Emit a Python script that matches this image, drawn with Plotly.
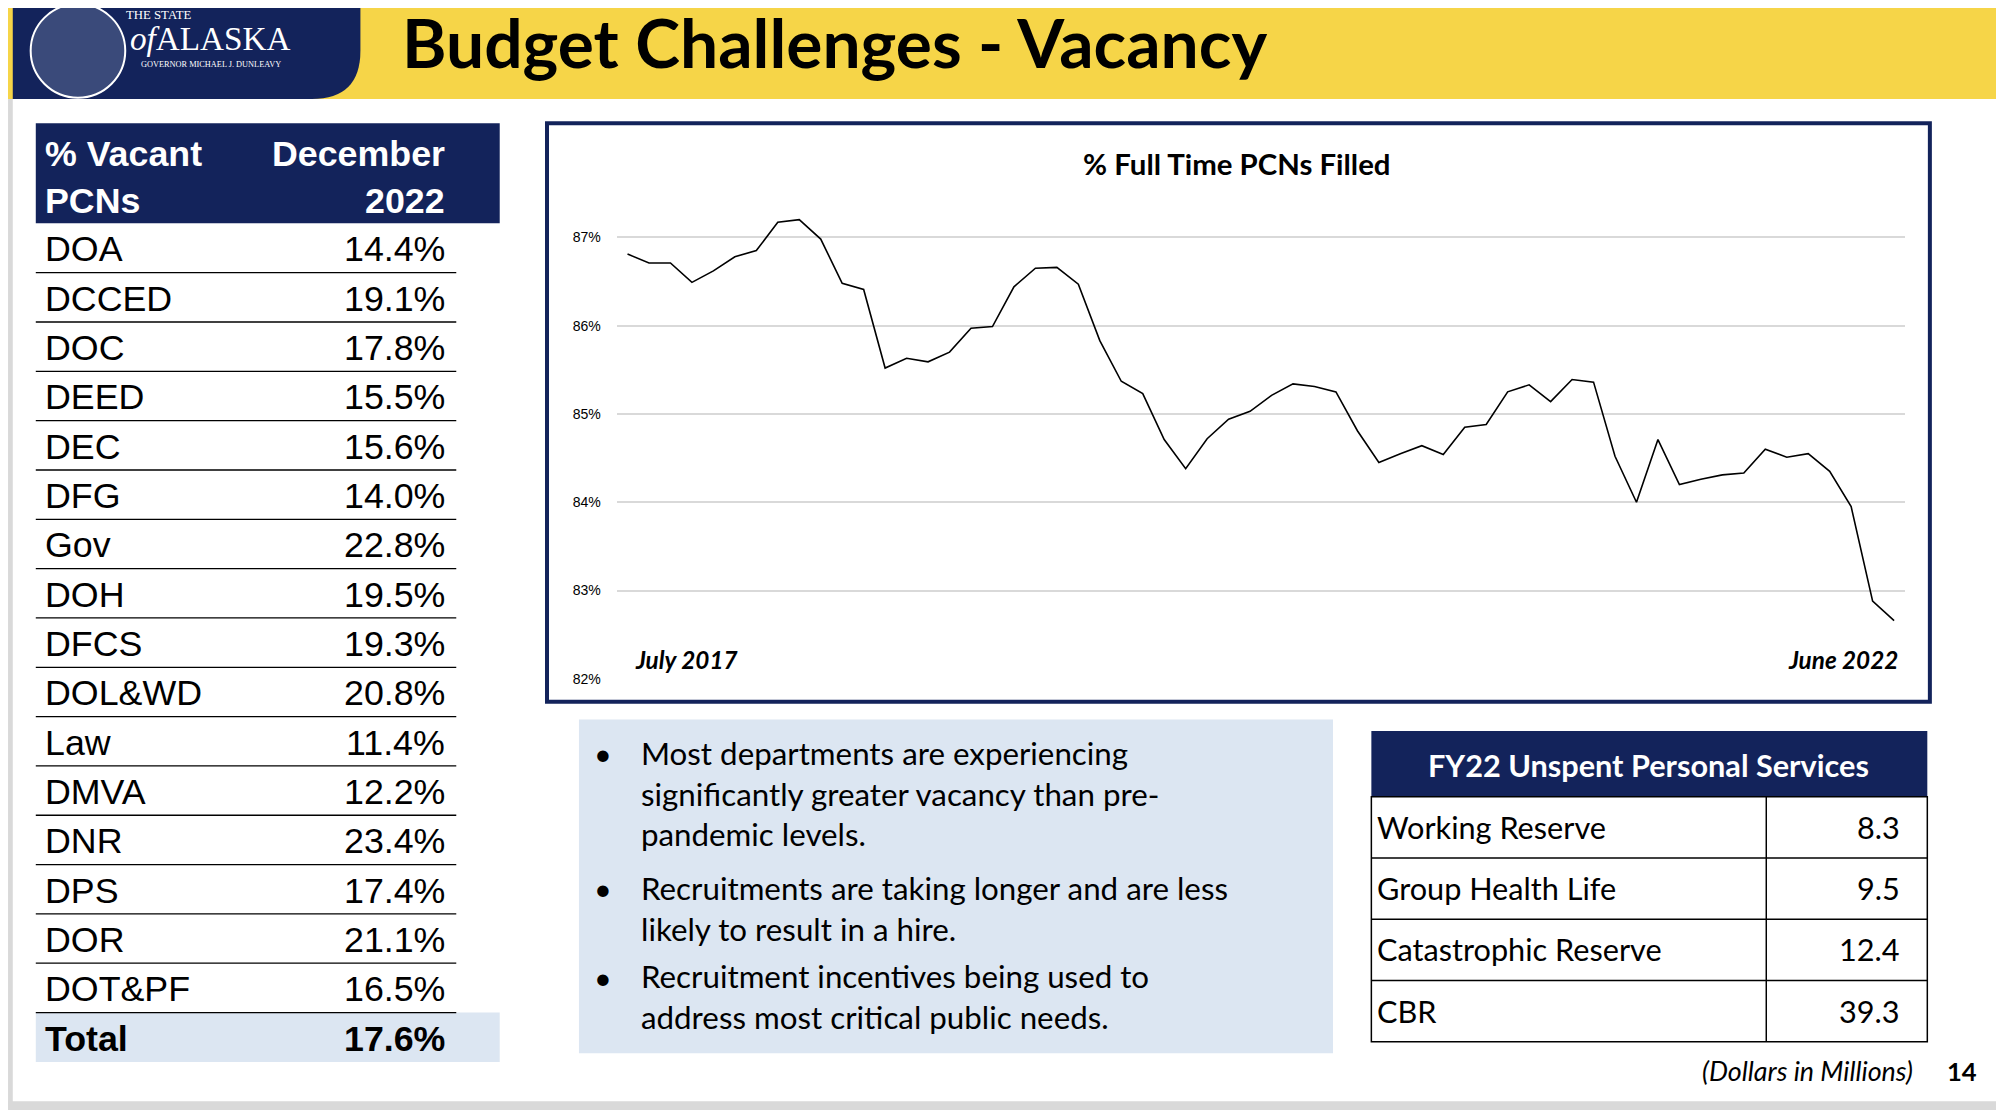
import plotly.graph_objects as go

W, H = 2004, 1118
S = W / 1568.0
OFF = 8  # browser body margin
FW, FH = W - 2 * OFF, H - 2 * OFF

months = list(range(60))
filled_pct = [86.81, 86.71, 86.71, 86.49, 86.62, 86.78, 86.85, 87.17, 87.20, 86.98,
              86.48, 86.41, 85.52, 85.63, 85.59, 85.70, 85.97, 85.99, 86.44, 86.65,
              86.66, 86.47, 85.83, 85.37, 85.23, 84.71, 84.38, 84.72, 84.94, 85.03,
              85.21, 85.34, 85.31, 85.25, 84.81, 84.45, 84.55, 84.64, 84.54, 84.85,
              84.88, 85.25, 85.33, 85.14, 85.39, 85.36, 84.52, 84.00, 84.71, 84.20,
              84.26, 84.31, 84.33, 84.60, 84.51, 84.55, 84.35, 83.95, 82.88, 82.66]
y_ticks = [82, 83, 84, 85, 86, 87]

departments = ["DOA", "DCCED", "DOC", "DEED", "DEC", "DFG", "Gov", "DOH", "DFCS",
               "DOL&WD", "Law", "DMVA", "DNR", "DPS", "DOR", "DOT&PF"]
vacancy = ["14.4%", "19.1%", "17.8%", "15.5%", "15.6%", "14.0%", "22.8%", "19.5%", "19.3%",
           "20.8%", "11.4%", "12.2%", "23.4%", "17.4%", "21.1%", "16.5%"]
total_vacancy = "17.6%"

unspent_items = ["Working Reserve", "Group Health Life", "Catastrophic Reserve", "CBR"]
unspent_values = ["8.3", "9.5", "12.4", "39.3"]

bullets = ["Most departments are experiencing<br>significantly greater vacancy than pre-<br>pandemic levels.",
           "Recruitments are taking longer and are less<br>likely to result in a hire.",
           "Recruitment incentives being used to<br>address most critical public needs."]

NAVY = "#13235B"
YELLOW = "#F6D548"
LIGHTBLUE = "#DCE6F2"

def px(x): return (x * S - OFF) / FW
def py(y): return 1 - (y * S - OFF) / FH
def fs(s): return s * S

shapes, ann = [], []

def rect(x0, y0, x1, y1, fill=None, line=None, lw=0):
    shapes.append(dict(type="rect", xref="paper", yref="paper", x0=px(x0), x1=px(x1),
                       y0=py(y1), y1=py(y0), fillcolor=fill or "rgba(0,0,0,0)",
                       line=dict(color=line or "rgba(0,0,0,0)", width=lw), layer="below"))

def hline(x0, x1, y, color="black", lw=1.3):
    shapes.append(dict(type="line", xref="paper", yref="paper", x0=px(x0), x1=px(x1),
                       y0=py(y), y1=py(y), line=dict(color=color, width=lw)))

def vline(x, y0, y1, color="black", lw=1.3):
    shapes.append(dict(type="line", xref="paper", yref="paper", x0=px(x), x1=px(x),
                       y0=py(y0), y1=py(y1), line=dict(color=color, width=lw)))

def text(x, y, t, size, color="black", anchor="left", bold=False, italic=False,
         family="Lato", yanchor="middle", align=None):
    if bold: t = "<b>" + t + "</b>"
    if italic: t = "<i>" + t + "</i>"
    ann.append(dict(x=px(x), y=py(y), xref="paper", yref="paper", text=t, showarrow=False,
                    xanchor=anchor, yanchor=yanchor, align=align or anchor,
                    font=dict(size=fs(size), color=color, family=family)))

# slide border
rect(6.3, 6.3, 10, 875, fill="#D9D9D9")
rect(0, 868, 1568, 875, fill="#D9D9D9")
# header
rect(6.3, 6.3, 1568, 78, fill=YELLOW)
rect(6.3, 0, 1568, 78, fill=YELLOW)
shapes.append(dict(type="path", xref="paper", yref="paper", layer="below",
                   path=f"M {px(10)},{py(0)} L {px(282)},{py(0)} L {px(282)},{py(40)} "
                        f"Q {px(282)},{py(78)} {px(244)},{py(78)} L {px(10)},{py(78)} Z",
                   fillcolor=NAVY, line=dict(width=0)))
shapes.append(dict(type="circle", xref="paper", yref="paper", x0=px(24), x1=px(98),
                   y0=py(77), y1=py(3), line=dict(color="white", width=2),
                   fillcolor="#3A4A7A"))
text(97, 12, "THE STATE", 10, color="white", family="Liberation Serif")
text(100, 30, "<i>of</i>ALASKA", 26, color="white", family="Liberation Serif")
text(109, 51, "GOVERNOR MICHAEL J. DUNLEAVY", 6.5, color="white", family="Liberation Serif")
text(313, 33, "Budget Challenges - Vacancy", 53, bold=True)

# left table
rect(28, 97, 391, 176, fill=NAVY)
text(34, 121, "% Vacant", 28, color="white", bold=True, family="Liberation Sans")
text(34, 158, "PCNs", 28, color="white", bold=True, family="Liberation Sans")
text(350, 121, "December", 28, color="white", bold=True, family="Liberation Sans", anchor="right")
text(350, 158, "2022", 28, color="white", bold=True, family="Liberation Sans", anchor="right")
row_h = (798 - 176) / 16.0
for i, (d, v) in enumerate(zip(departments, vacancy)):
    yc = 176 + row_h * (i + 0.5)
    text(34, yc + 1, d, 28, family="Liberation Sans")
    text(350, yc + 1, v, 28, family="Liberation Sans", anchor="right")
    hline(28, 357, 176 + row_h * (i + 1))
rect(28, 798, 391, 837, fill=LIGHTBLUE)
text(34, 819, "Total", 28, bold=True, family="Liberation Sans")
text(350, 819, total_vacancy, 28, bold=True, family="Liberation Sans", anchor="right")

# chart frame
rect(428, 97, 1510, 553, fill="white", line=NAVY, lw=4)
text(968, 129, "% Full Time PCNs Filled", 23, bold=True, family="Lato", anchor="center")
text(495, 520, "July 2017", 19, bold=True, italic=True)
text(1487, 520, "June 2022", 19, bold=True, italic=True, anchor="right")

# bullets box
rect(453, 567, 1043, 830, fill=LIGHTBLUE)
bl = [(594, bullets[0]), (700, bullets[1]), (770, bullets[2])]
for y0, t in bl:
    text(463, y0, "•", 24, yanchor="middle")
    text(500, y0 - 17, t, 24.5, yanchor="top")

# right table
rect(1073, 576, 1508, 628, fill=NAVY)
text(1290, 603, "FY22 Unspent Personal Services", 24, color="white", bold=True, anchor="center")
rect(1073, 628, 1508, 821, line="black", lw=1.5)
rh = (821 - 628) / 4.0
vline(1382, 628, 821, lw=1.5)
for i, (n, v) in enumerate(zip(unspent_items, unspent_values)):
    yc = 628 + rh * (i + 0.5)
    text(1076, yc, n, 24)
    text(1488, yc, v, 24, anchor="right")
    if i < 3:
        hline(1073, 1508, 628 + rh * (i + 1), lw=1.5)
text(1498, 844, "(Dollars in Millions)", 21, italic=True, anchor="right")
text(1535, 844, "14", 20, bold=True, anchor="center")

fig = go.Figure(go.Scatter(x=months, y=filled_pct, mode="lines",
                           line=dict(color="black", width=1.6), hoverinfo="skip"))

x0p, x1p = 482.6, 1490.4
y82, y87 = 535, 187
per = (y82 - y87) / 5.0
ytop = 160
ymax = 87 + (y87 - ytop) / per
fig.update_layout(
    width=FW, height=FH, margin=dict(l=0, r=0, t=0, b=0),
    paper_bgcolor="white", plot_bgcolor="rgba(0,0,0,0)", showlegend=False,
    xaxis=dict(domain=[px(x0p), px(x1p)], range=[-0.5, 59.5], visible=False),
    yaxis=dict(domain=[py(y82), py(ytop)], range=[82, ymax], tickvals=y_ticks,
               ticktext=[f"{t}%" for t in y_ticks], showgrid=True, gridcolor="#D9D9D9",
               gridwidth=1.5, zeroline=False, showline=False, ticks="",
               tickfont=dict(size=fs(11), family="Liberation Sans Narrow, Liberation Sans", color="black"),
               ticklabelstandoff=int(fs(12))),
    shapes=shapes, annotations=ann,
)
fig.write_html("out.html")
